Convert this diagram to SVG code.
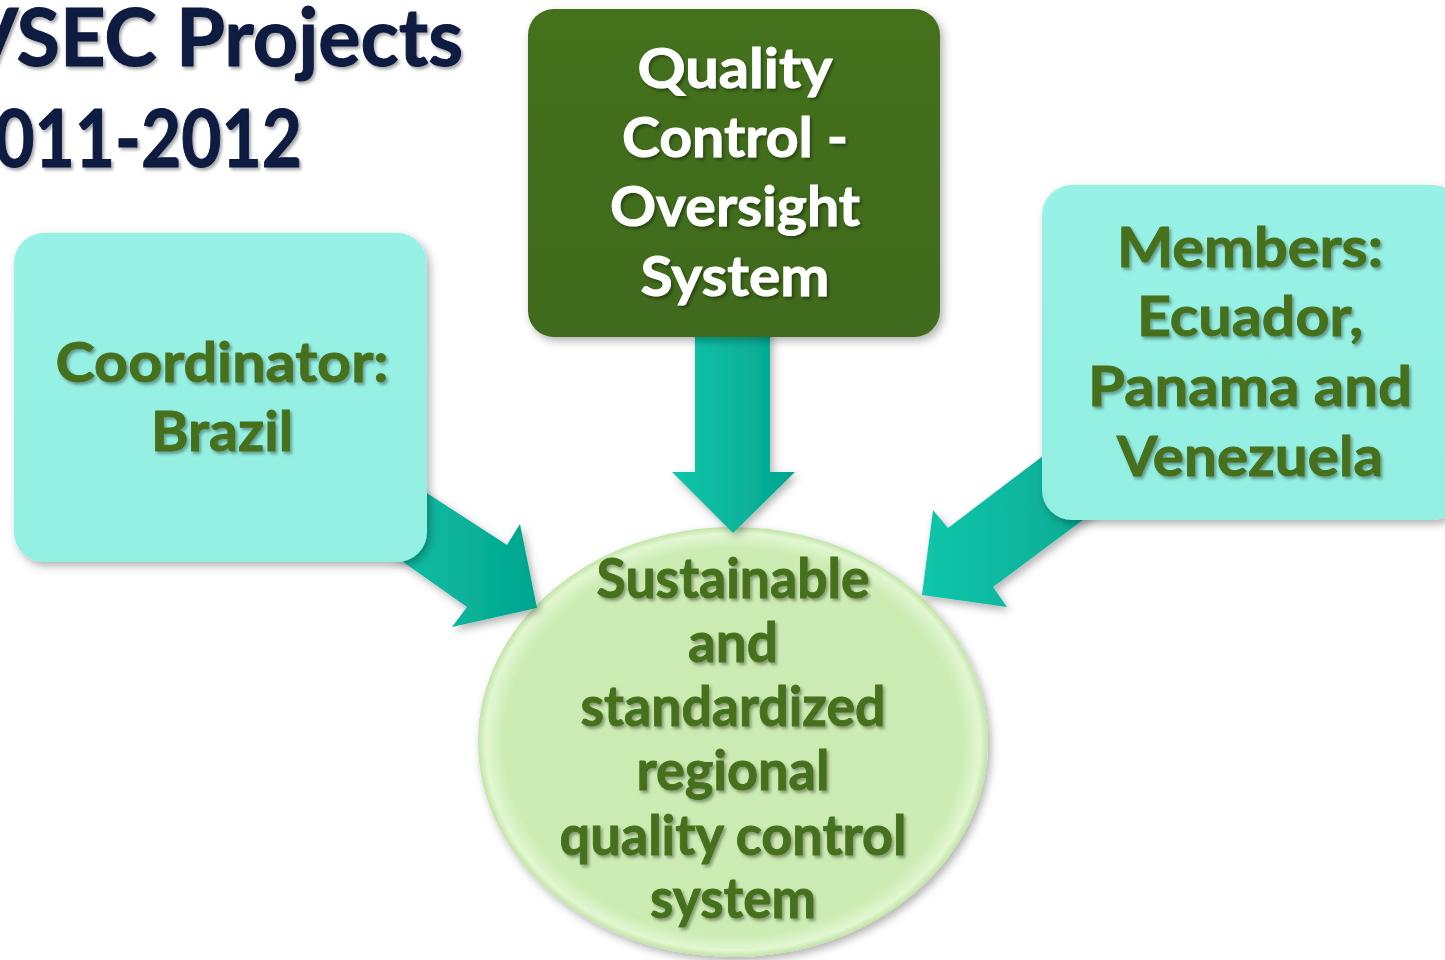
<svg xmlns="http://www.w3.org/2000/svg" width="1445" height="960" viewBox="0 0 1445 960">
<defs>
<style>
.title{font-family:"Lato","Liberation Sans",sans-serif;font-weight:bold;font-size:80px;fill:#0b1a3f;stroke:#0b1a3f;stroke-width:1;}
.lbl{font-family:"Lato","Liberation Sans",sans-serif;font-weight:bold;font-size:56px;text-anchor:middle;stroke-width:0.9;}
.dk{fill:#46701d;stroke:#46701d;}
.wt{fill:#ffffff;stroke:#ffffff;}
.arrow{fill:url(#teal);filter:url(#shadow);}
.cyanbox{fill:url(#cyan);filter:url(#shadow);}
.hl{fill:none;stroke:#ffffff;stroke-opacity:0.55;stroke-width:5;stroke-linecap:round;filter:url(#blur);}
</style>
<linearGradient id="teal" x1="0" y1="0" x2="1" y2="0">
<stop offset="0" stop-color="#12c6ab"/>
<stop offset="1" stop-color="#02a58e"/>
</linearGradient>
<linearGradient id="cyan" x1="0" y1="0" x2="0" y2="1">
<stop offset="0" stop-color="#98f1e6"/>
<stop offset="1" stop-color="#93efe2"/>
</linearGradient>
<linearGradient id="green" x1="0" y1="0" x2="0" y2="1">
<stop offset="0" stop-color="#44701f"/>
<stop offset="1" stop-color="#3f6a1c"/>
</linearGradient>
<radialGradient id="pale" cx="0.5" cy="0.5" r="0.5">
<stop offset="0" stop-color="#cbebb2"/>
<stop offset="0.9" stop-color="#cdecb4"/>
<stop offset="0.97" stop-color="#e2f7d2"/>
<stop offset="1" stop-color="#c2e4a6"/>
</radialGradient>
<filter id="shadow" x="-10%" y="-10%" width="130%" height="130%">
<feDropShadow dx="3" dy="4" stdDeviation="4" flood-color="#000" flood-opacity="0.3"/>
</filter>
<filter id="tshadow" x="-5%" y="-10%" width="115%" height="130%">
<feDropShadow dx="2" dy="2.5" stdDeviation="1.5" flood-color="#000" flood-opacity="0.35"/>
</filter>
<filter id="blur"><feGaussianBlur stdDeviation="1.5"/></filter>
</defs>
<rect width="1445" height="960" fill="#ffffff"/>

<g id="title" filter="url(#tshadow)">
<text class="title" x="463" y="66" text-anchor="end" textLength="500" lengthAdjust="spacingAndGlyphs">VSEC Projects</text>
<text class="title" x="302" y="167" text-anchor="end" textLength="348" lengthAdjust="spacingAndGlyphs">2011-2012</text>
</g>

<g id="node-result">
<ellipse cx="733" cy="742" rx="255" ry="215" fill="url(#pale)" filter="url(#shadow)"/>
<g filter="url(#tshadow)" class="lbl dk" font-size="54">
<text x="733" y="598" textLength="273" lengthAdjust="spacingAndGlyphs">Sustainable</text>
<text x="733" y="662" textLength="90" lengthAdjust="spacingAndGlyphs">and</text>
<text x="733" y="726" textLength="305" lengthAdjust="spacingAndGlyphs">standardized</text>
<text x="733" y="790" textLength="193" lengthAdjust="spacingAndGlyphs">regional</text>
<text x="733" y="855" textLength="347" lengthAdjust="spacingAndGlyphs">quality control</text>
<text x="733" y="918" textLength="166" lengthAdjust="spacingAndGlyphs">system</text>
</g>
</g>

<g id="connectors">
<polygon class="arrow" points="695,330 770,330 770,472 795,472 733,533 672,472 695,472"/>
<polygon class="arrow" points="379,462 507,545 520,524 537,608 452,627 467,607 352,526"/>
<polygon class="arrow" points="1068,437 948,528 933,510 922,595 1007,607 993,587 1123,490"/>
</g>

<g id="node-coordinator">
<rect class="cyanbox" x="14" y="233" width="413" height="329" rx="30"/>
<path class="hl" d="M44,240 H397"/>
<path class="hl" d="M19,265 V530"/>
<g filter="url(#tshadow)" class="lbl dk" font-size="57">
<text x="222" y="382" textLength="333" lengthAdjust="spacingAndGlyphs">Coordinator:</text>
<text x="222" y="451" textLength="142" lengthAdjust="spacingAndGlyphs">Brazil</text>
</g>
</g>

<g id="node-qc">
<rect x="528" y="9" width="412" height="328" rx="26" fill="url(#green)" filter="url(#shadow)"/>
<path class="hl" d="M556,16 H912" stroke-opacity="0.3"/>
<g filter="url(#tshadow)" class="lbl wt" font-size="54">
<text x="735" y="88" textLength="195" lengthAdjust="spacingAndGlyphs">Quality</text>
<text x="735" y="157" textLength="226" lengthAdjust="spacingAndGlyphs">Control -</text>
<text x="735" y="226" textLength="250" lengthAdjust="spacingAndGlyphs">Oversight</text>
<text x="735" y="296" textLength="189" lengthAdjust="spacingAndGlyphs">System</text>
</g>
</g>

<g id="node-members">
<rect class="cyanbox" x="1042" y="185" width="420" height="335" rx="30"/>
<path class="hl" d="M1072,192 H1440"/>
<path class="hl" d="M1047,217 V488"/>
<g filter="url(#tshadow)" class="lbl dk" font-size="55">
<text x="1250" y="267" textLength="266" lengthAdjust="spacingAndGlyphs">Members:</text>
<text x="1250" y="336" textLength="226" lengthAdjust="spacingAndGlyphs">Ecuador,</text>
<text x="1250" y="406" textLength="324" lengthAdjust="spacingAndGlyphs">Panama and</text>
<text x="1250" y="476" textLength="266" lengthAdjust="spacingAndGlyphs">Venezuela</text>
</g>
</g>
</svg>
